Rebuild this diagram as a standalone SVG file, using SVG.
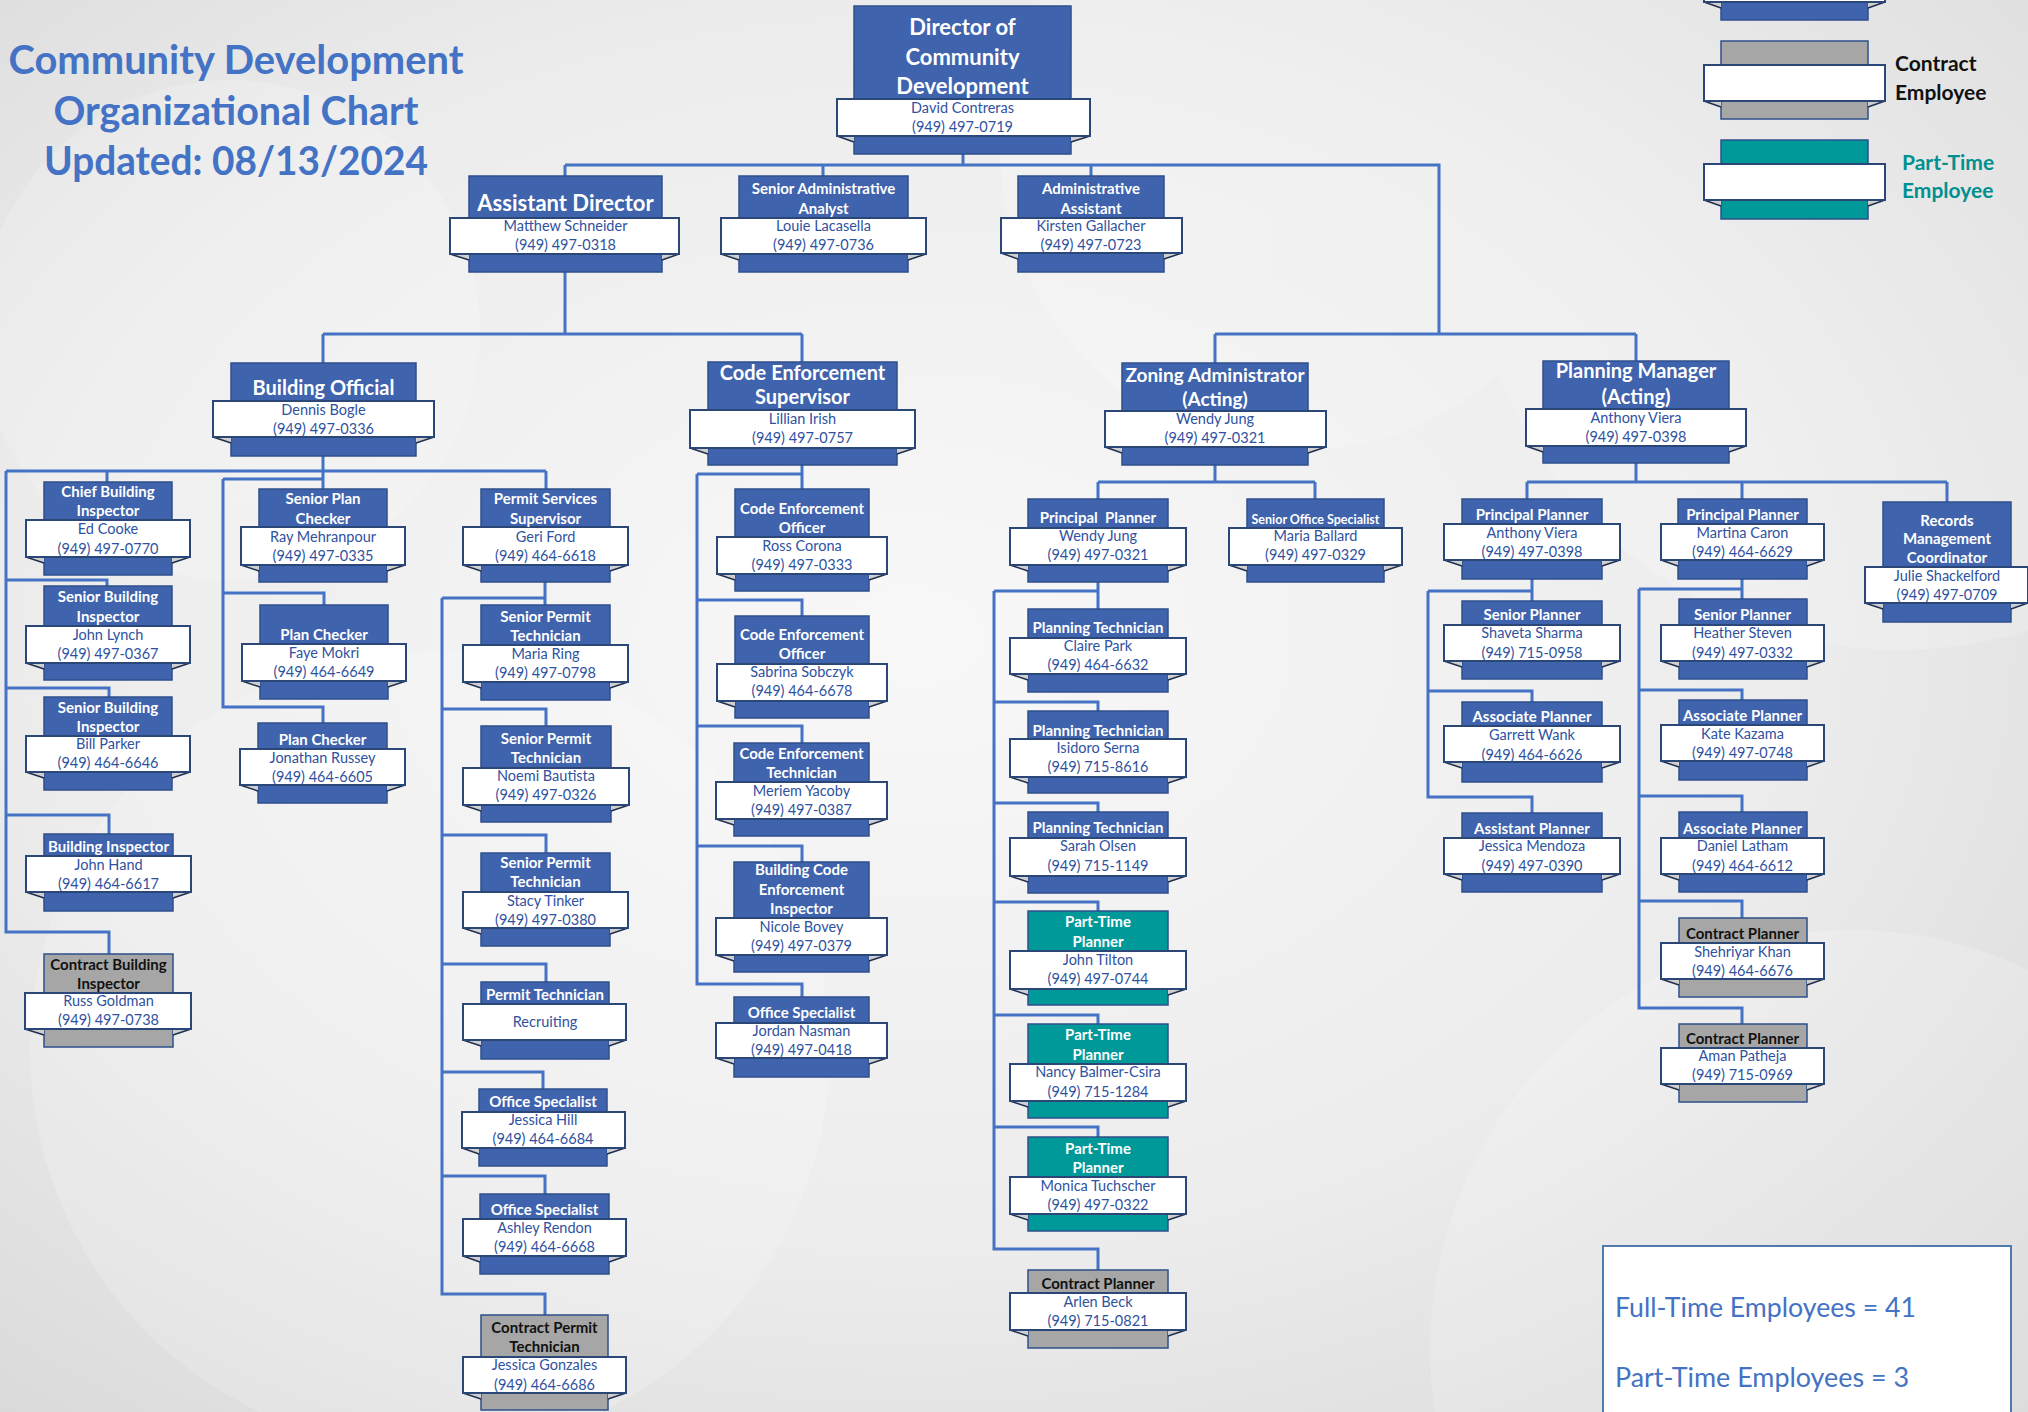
<svg xmlns="http://www.w3.org/2000/svg" width="2028" height="1412" viewBox="0 0 2028 1412">
<defs>
<radialGradient id="bg" cx="0.45" cy="0.45" r="0.8">
<stop offset="0" stop-color="#f8f8f8"/>
<stop offset="0.55" stop-color="#ececec"/>
<stop offset="1" stop-color="#d4d4d4"/>
</radialGradient>
<style>
.b{fill:#3F63AD;stroke:#2F4F8C;stroke-width:1.5}
.g{fill:#A6A6A6;stroke:#2F4F8C;stroke-width:1.5}
.t{fill:#009999;stroke:#2F4F8C;stroke-width:1.5}
.band{fill:#fff;stroke:#2B4778;stroke-width:2}
.fold{fill:#cfcfcf}
.fl{fill:none;stroke:#1f3050;stroke-width:1.5}
.conn{fill:none;stroke:#4472C4;stroke-width:3}
text{font-family:Lato,"Liberation Sans",sans-serif;text-anchor:middle}
.ti{font-weight:bold;fill:#fff}
.tk{fill:#111}
.s22{font-size:22px}.s20{font-size:20px}.s19{font-size:19px}.s15{font-size:15px}.s12{font-size:12.5px}
.nm{font-size:14.5px;fill:#2f52a0}
.hd{font-size:40px;font-weight:bold;fill:#4472C4}
.lg{font-size:21px;font-weight:bold;text-anchor:start}
.sum{font-size:26px;fill:#4472C4;text-anchor:start}
</style>
</defs>
<rect width="2028" height="1412" fill="url(#bg)"/>
<g fill="#fff" opacity="0.18">
<circle cx="230" cy="330" r="250"/>
<circle cx="430" cy="1050" r="400"/>
<circle cx="1900" cy="220" r="430"/>
<circle cx="1850" cy="1350" r="420"/>
<circle cx="1300" cy="150" r="300"/>
</g>

<g id="title">
<text class="hd" x="236" y="74" textLength="455" lengthAdjust="spacingAndGlyphs">Community Development</text>
<text class="hd" x="236" y="124.5" textLength="365" lengthAdjust="spacingAndGlyphs">Organizational Chart</text>
<text class="hd" x="236" y="175" textLength="384" lengthAdjust="spacingAndGlyphs">Updated: 08/13/2024</text>
</g>

<g id="legend">
<g id="legend-fulltime">
<rect class="b" x="1721" y="-40" width="147" height="60"/>
<path class="fold" d="M1704 2H1721V8Z M1885 2H1868V8Z"/><path class="fl" d="M1704 2L1721 8M1885 2L1868 8"/>
<rect class="band" x="1704" y="-30" width="181" height="32"/>
</g>
<g id="legend-contract">
<rect class="g" x="1721" y="41" width="147" height="78"/>
<path class="fold" d="M1704 101H1721V107Z M1885 101H1868V107Z"/><path class="fl" d="M1704 101L1721 107M1885 101L1868 107"/>
<rect class="band" x="1704" y="65" width="181" height="36"/>
<text class="lg" x="1895" y="70.5" fill="#111">Contract</text>
<text class="lg" x="1895" y="99.5" fill="#111">Employee</text>
</g>
<g id="legend-parttime">
<rect class="t" x="1721" y="140" width="147" height="79"/>
<path class="fold" d="M1704 200H1721V206Z M1885 200H1868V206Z"/><path class="fl" d="M1704 200L1721 206M1885 200L1868 206"/>
<rect class="band" x="1704" y="164" width="181" height="36"/>
<text class="lg" x="1902" y="169.5" fill="#009090">Part-Time</text>
<text class="lg" x="1902" y="198" fill="#009090">Employee</text>
</g>
</g>

<g id="summary">
<rect x="1603" y="1246" width="408" height="180" fill="#fff" stroke="#4E7AAE" stroke-width="2"/>
<text class="sum" x="1615" y="1317" textLength="301" lengthAdjust="spacingAndGlyphs">Full-Time Employees = 41</text>
<text class="sum" x="1615" y="1387" textLength="294" lengthAdjust="spacingAndGlyphs">Part-Time Employees = 3</text>
</g>

<g id="connectors">
<path class="conn" d="M963 154V165 M565 165H1439V334 M565 165V176 M823 165V176 M1091 165V176 M1215 334H1636 M1215 334V363 M1636 334V361 M565 272V334 M323 334H802 M323 334V363 M802 334V362"/>
<path class="conn" d="M323 456V489 M6 471H546 M223 479H323 M6 471V932H109V954 M107 471V482 M6 580H107V586 M6 688H109V697 M6 815H109V834 M223 479V707H323V723 M223 593H324V605 M546 471V489 M545 582V605 M442 598H545 M442 598V1294H545V1315 M442 709H546V726 M442 835H546V853 M442 964H546V982 M442 1072H543V1089 M442 1176H545V1194"/>
<path class="conn" d="M802 465V489 M697 474H802 M697 474V984H802V997 M697 600H802V616 M697 726H802V743 M697 846H802V862"/>
<path class="conn" d="M1215 465V482 M1098 482H1315 M1098 482V499 M1315 482V499 M1098 582V609 M994 591H1098 M994 591V1249H1098V1270 M994 702H1098V711 M994 803H1098V812 M994 902H1098V911 M994 1015H1098V1024 M994 1127H1098V1137"/>
<path class="conn" d="M1636 463V482 M1527 482H1947 M1527 482V499 M1742 482V499 M1947 482V502 M1532 579V601 M1428 591H1532 M1428 591V797H1532V813 M1428 691H1532V702 M1742 579V599 M1639 589H1742 M1639 589V1008H1742V1024 M1639 690H1742V700 M1639 796H1742V812 M1639 901H1742V918"/>
</g>

<g id="n-director">
<rect class="b" x="854" y="6" width="217" height="148"/>
<path class="fold" d="M837 136H854V142Z M1090 136H1071V142Z"/><path class="fl" d="M837 136L854 142M1090 136L1071 142"/>
<rect class="band" x="837" y="99" width="253" height="37"/>
<text class="ti s22" x="962.5" y="35.4">Director of</text>
<text class="ti s22" x="962.5" y="65.4">Community</text>
<text class="ti s22" x="962.5" y="93.7">Development</text>
<text class="nm" x="962.5" y="113">David Contreras</text>
<text class="nm" x="962.5" y="132">(949) 497-0719</text>
</g>

<g id="n-assistant-director">
<rect class="b" x="469" y="176" width="193" height="96"/>
<path class="fold" d="M450 254H469V260Z M679 254H662V260Z"/><path class="fl" d="M450 254L469 260M679 254L662 260"/>
<rect class="band" x="450" y="218" width="229" height="36"/>
<text class="ti s22" x="565.5" y="211.4">Assistant Director</text>
<text class="nm" x="565.5" y="231.3">Matthew Schneider</text>
<text class="nm" x="565.5" y="250.3">(949) 497-0318</text>
</g>

<g id="n-senior-admin-analyst">
<rect class="b" x="739" y="176" width="169" height="96"/>
<path class="fold" d="M721 254H739V260Z M926 254H908V260Z"/><path class="fl" d="M721 254L739 260M926 254L908 260"/>
<rect class="band" x="721" y="218" width="205" height="36"/>
<text class="ti s15" x="823.5" y="194.3">Senior Administrative</text>
<text class="ti s15" x="823.5" y="213.6">Analyst</text>
<text class="nm" x="823.5" y="231.3">Louie Lacasella</text>
<text class="nm" x="823.5" y="250.3">(949) 497-0736</text>
</g>

<g id="n-admin-assistant">
<rect class="b" x="1018" y="176" width="146" height="96"/>
<path class="fold" d="M1001 253H1018V259Z M1182 253H1164V259Z"/><path class="fl" d="M1001 253L1018 259M1182 253L1164 259"/>
<rect class="band" x="1001" y="218" width="181" height="35"/>
<text class="ti s15" x="1091" y="194.3">Administrative</text>
<text class="ti s15" x="1091" y="213.6">Assistant</text>
<text class="nm" x="1091" y="231.3">Kirsten Gallacher</text>
<text class="nm" x="1091" y="250.3">(949) 497-0723</text>
</g>

<g id="n-building-official">
<rect class="b" x="231" y="363" width="185" height="93"/>
<path class="fold" d="M213 437H231V443Z M434 437H416V443Z"/><path class="fl" d="M213 437L231 443M434 437L416 443"/>
<rect class="band" x="213" y="401" width="221" height="36"/>
<text class="ti s20" x="323.5" y="395.2">Building Official</text>
<text class="nm" x="323.5" y="415.3">Dennis Bogle</text>
<text class="nm" x="323.5" y="434">(949) 497-0336</text>
</g>

<g id="n-code-enforcement-supervisor">
<rect class="b" x="708" y="362" width="189" height="103"/>
<path class="fold" d="M690 448H708V454Z M915 448H897V454Z"/><path class="fl" d="M690 448L708 454M915 448L897 454"/>
<rect class="band" x="690" y="410" width="225" height="38"/>
<text class="ti s20" x="802.5" y="379.5">Code Enforcement</text>
<text class="ti s20" x="802.5" y="404.2">Supervisor</text>
<text class="nm" x="802.5" y="424">Lillian Irish</text>
<text class="nm" x="802.5" y="443.4">(949) 497-0757</text>
</g>

<g id="n-zoning-administrator">
<rect class="b" x="1122" y="363" width="186" height="102"/>
<path class="fold" d="M1105 447H1122V453Z M1326 447H1308V453Z"/><path class="fl" d="M1105 447L1122 453M1326 447L1308 453"/>
<rect class="band" x="1105" y="411" width="221" height="36"/>
<text class="ti s19" x="1215" y="382.4">Zoning Administrator</text>
<text class="ti s19" x="1215" y="405.7">(Acting)</text>
<text class="nm" x="1215" y="424.3">Wendy Jung</text>
<text class="nm" x="1215" y="442.7">(949) 497-0321</text>
</g>

<g id="n-planning-manager">
<rect class="b" x="1543" y="361" width="186" height="102"/>
<path class="fold" d="M1526 446H1543V452Z M1746 446H1729V452Z"/><path class="fl" d="M1526 446L1543 452M1746 446L1729 452"/>
<rect class="band" x="1526" y="409" width="220" height="37"/>
<text class="ti s20" x="1636" y="377.7">Planning Manager</text>
<text class="ti s20" x="1636" y="403.7">(Acting)</text>
<text class="nm" x="1636" y="423.3">Anthony Viera</text>
<text class="nm" x="1636" y="442.3">(949) 497-0398</text>
</g>

<g id="n-chief-building-inspector">
<rect class="b" x="44" y="482" width="128" height="93"/>
<path class="fold" d="M26 557H44V563Z M190 557H172V563Z"/><path class="fl" d="M26 557L44 563M190 557L172 563"/>
<rect class="band" x="26" y="520" width="164" height="37"/>
<text class="ti s15" x="108" y="496.8">Chief Building</text>
<text class="ti s15" x="108" y="516.1">Inspector</text>
<text class="nm" x="108" y="533.7">Ed Cooke</text>
<text class="nm" x="108" y="553.5">(949) 497-0770</text>
</g>

<g id="n-senior-building-inspector-lynch">
<rect class="b" x="44" y="586" width="128" height="94"/>
<path class="fold" d="M26 663H44V669Z M190 663H172V669Z"/><path class="fl" d="M26 663L44 669M190 663L172 669"/>
<rect class="band" x="26" y="626" width="164" height="37"/>
<text class="ti s15" x="108" y="602.4">Senior Building</text>
<text class="ti s15" x="108" y="622.2">Inspector</text>
<text class="nm" x="108" y="639.8">John Lynch</text>
<text class="nm" x="108" y="659.1">(949) 497-0367</text>
</g>

<g id="n-senior-building-inspector-parker">
<rect class="b" x="44" y="697" width="128" height="93"/>
<path class="fold" d="M26 772H44V778Z M190 772H172V778Z"/><path class="fl" d="M26 772L44 778M190 772L172 778"/>
<rect class="band" x="26" y="736" width="164" height="36"/>
<text class="ti s15" x="108" y="712.6">Senior Building</text>
<text class="ti s15" x="108" y="731.5">Inspector</text>
<text class="nm" x="108" y="749">Bill Parker</text>
<text class="nm" x="108" y="768">(949) 464-6646</text>
</g>

<g id="n-building-inspector-hand">
<rect class="b" x="44" y="834" width="129" height="77"/>
<path class="fold" d="M26 892H44V898Z M191 892H173V898Z"/><path class="fl" d="M26 892L44 898M191 892L173 898"/>
<rect class="band" x="26" y="856" width="165" height="36"/>
<text class="ti s15" x="108.5" y="852.3">Building Inspector</text>
<text class="nm" x="108.5" y="869.8">John Hand</text>
<text class="nm" x="108.5" y="889.1">(949) 464-6617</text>
</g>

<g id="n-contract-building-inspector">
<rect class="g" x="44" y="954" width="129" height="93"/>
<path class="fold" d="M25 1029H44V1035Z M191 1029H173V1035Z"/><path class="fl" d="M25 1029L44 1035M191 1029L173 1035"/>
<rect class="band" x="25" y="993" width="166" height="36"/>
<text class="ti tk s15" x="108.5" y="969.6">Contract Building</text>
<text class="ti tk s15" x="108.5" y="988.6">Inspector</text>
<text class="nm" x="108.5" y="1006">Russ Goldman</text>
<text class="nm" x="108.5" y="1025">(949) 497-0738</text>
</g>

<g id="n-senior-plan-checker">
<rect class="b" x="259" y="489" width="128" height="93"/>
<path class="fold" d="M241 565H259V571Z M405 565H387V571Z"/><path class="fl" d="M241 565L259 571M405 565L387 571"/>
<rect class="band" x="241" y="527" width="164" height="38"/>
<text class="ti s15" x="323" y="504.2">Senior Plan</text>
<text class="ti s15" x="323" y="523.9">Checker</text>
<text class="nm" x="323" y="542">Ray Mehranpour</text>
<text class="nm" x="323" y="560.8">(949) 497-0335</text>
</g>

<g id="n-plan-checker-mokri">
<rect class="b" x="260" y="605" width="128" height="94"/>
<path class="fold" d="M242 681H260V687Z M406 681H388V687Z"/><path class="fl" d="M242 681L260 687M406 681L388 687"/>
<rect class="band" x="242" y="644" width="164" height="37"/>
<text class="ti s15" x="324" y="640.1">Plan Checker</text>
<text class="nm" x="324" y="658.2">Faye Mokri</text>
<text class="nm" x="324" y="676.5">(949) 464-6649</text>
</g>

<g id="n-plan-checker-russey">
<rect class="b" x="258" y="723" width="129" height="80"/>
<path class="fold" d="M240 785H258V791Z M405 785H387V791Z"/><path class="fl" d="M240 785L258 791M405 785L387 791"/>
<rect class="band" x="240" y="749" width="165" height="36"/>
<text class="ti s15" x="322.5" y="745.3">Plan Checker</text>
<text class="nm" x="322.5" y="763.3">Jonathan Russey</text>
<text class="nm" x="322.5" y="782.1">(949) 464-6605</text>
</g>

<g id="n-permit-services-supervisor">
<rect class="b" x="481" y="489" width="129" height="93"/>
<path class="fold" d="M463 565H481V571Z M628 565H610V571Z"/><path class="fl" d="M463 565L481 571M628 565L610 571"/>
<rect class="band" x="463" y="527" width="165" height="38"/>
<text class="ti s15" x="545.5" y="504.2">Permit Services</text>
<text class="ti s15" x="545.5" y="523.9">Supervisor</text>
<text class="nm" x="545.5" y="542">Geri Ford</text>
<text class="nm" x="545.5" y="560.8">(949) 464-6618</text>
</g>

<g id="n-senior-permit-tech-ring">
<rect class="b" x="481" y="605" width="129" height="95"/>
<path class="fold" d="M463 682H481V688Z M628 682H610V688Z"/><path class="fl" d="M463 682L481 688M628 682L610 688"/>
<rect class="band" x="463" y="645" width="165" height="37"/>
<text class="ti s15" x="545.5" y="622.2">Senior Permit</text>
<text class="ti s15" x="545.5" y="641">Technician</text>
<text class="nm" x="545.5" y="659">Maria Ring</text>
<text class="nm" x="545.5" y="677.9">(949) 497-0798</text>
</g>

<g id="n-senior-permit-tech-bautista">
<rect class="b" x="481" y="726" width="130" height="96"/>
<path class="fold" d="M463 805H481V811Z M629 805H611V811Z"/><path class="fl" d="M463 805L481 811M629 805L611 811"/>
<rect class="band" x="463" y="768" width="166" height="37"/>
<text class="ti s15" x="546" y="744.3">Senior Permit</text>
<text class="ti s15" x="546" y="763.2">Technician</text>
<text class="nm" x="546" y="780.8">Noemi Bautista</text>
<text class="nm" x="546" y="800">(949) 497-0326</text>
</g>

<g id="n-senior-permit-tech-tinker">
<rect class="b" x="481" y="853" width="129" height="93"/>
<path class="fold" d="M463 928H481V934Z M628 928H610V934Z"/><path class="fl" d="M463 928L481 934M628 928L610 934"/>
<rect class="band" x="463" y="892" width="165" height="36"/>
<text class="ti s15" x="545.5" y="868.3">Senior Permit</text>
<text class="ti s15" x="545.5" y="887.1">Technician</text>
<text class="nm" x="545.5" y="905.7">Stacy Tinker</text>
<text class="nm" x="545.5" y="925">(949) 497-0380</text>
</g>

<g id="n-permit-technician-recruiting">
<rect class="b" x="481" y="982" width="128" height="77"/>
<path class="fold" d="M463 1040H481V1046Z M626 1040H609V1046Z"/><path class="fl" d="M463 1040L481 1046M626 1040L609 1046"/>
<rect class="band" x="463" y="1004" width="163" height="36"/>
<text class="ti s15" x="545" y="1000.3">Permit Technician</text>
<text class="nm" x="545" y="1027.3">Recruiting</text>
</g>

<g id="n-office-specialist-hill">
<rect class="b" x="479" y="1089" width="128" height="77"/>
<path class="fold" d="M462 1148H479V1154Z M625 1148H607V1154Z"/><path class="fl" d="M462 1148L479 1154M625 1148L607 1154"/>
<rect class="band" x="462" y="1112" width="163" height="36"/>
<text class="ti s15" x="543" y="1107.3">Office Specialist</text>
<text class="nm" x="543" y="1125.3">Jessica Hill</text>
<text class="nm" x="543" y="1144">(949) 464-6684</text>
</g>

<g id="n-office-specialist-rendon">
<rect class="b" x="480" y="1194" width="129" height="80"/>
<path class="fold" d="M463 1256H480V1262Z M626 1256H609V1262Z"/><path class="fl" d="M463 1256L480 1262M626 1256L609 1262"/>
<rect class="band" x="463" y="1219" width="163" height="37"/>
<text class="ti s15" x="544.5" y="1215.3">Office Specialist</text>
<text class="nm" x="544.5" y="1233.3">Ashley Rendon</text>
<text class="nm" x="544.5" y="1252.3">(949) 464-6668</text>
</g>

<g id="n-contract-permit-technician">
<rect class="g" x="481" y="1315" width="127" height="95"/>
<path class="fold" d="M463 1393H481V1399Z M626 1393H608V1399Z"/><path class="fl" d="M463 1393L481 1399M626 1393L608 1399"/>
<rect class="band" x="463" y="1357" width="163" height="36"/>
<text class="ti tk s15" x="544.5" y="1333.3">Contract Permit</text>
<text class="ti tk s15" x="544.5" y="1352.3">Technician</text>
<text class="nm" x="544.5" y="1370.3">Jessica Gonzales</text>
<text class="nm" x="544.5" y="1390">(949) 464-6686</text>
</g>

<g id="n-code-officer-corona">
<rect class="b" x="735" y="489" width="134" height="102"/>
<path class="fold" d="M717 574H735V580Z M887 574H869V580Z"/><path class="fl" d="M717 574L735 580M887 574L869 580"/>
<rect class="band" x="717" y="537" width="170" height="37"/>
<text class="ti s15" x="802" y="513.5">Code Enforcement</text>
<text class="ti s15" x="802" y="532.9">Officer</text>
<text class="nm" x="802" y="551">Ross Corona</text>
<text class="nm" x="802" y="569.9">(949) 497-0333</text>
</g>

<g id="n-code-officer-sobczyk">
<rect class="b" x="735" y="616" width="134" height="102"/>
<path class="fold" d="M717 701H735V707Z M887 701H869V707Z"/><path class="fl" d="M717 701L735 707M887 701L869 707"/>
<rect class="band" x="717" y="664" width="170" height="37"/>
<text class="ti s15" x="802" y="640">Code Enforcement</text>
<text class="ti s15" x="802" y="658.9">Officer</text>
<text class="nm" x="802" y="677">Sabrina Sobczyk</text>
<text class="nm" x="802" y="695.5">(949) 464-6678</text>
</g>

<g id="n-code-technician-yacoby">
<rect class="b" x="734" y="743" width="135" height="93"/>
<path class="fold" d="M716 819H734V825Z M887 819H869V825Z"/><path class="fl" d="M716 819L734 825M887 819L869 825"/>
<rect class="band" x="716" y="782" width="171" height="37"/>
<text class="ti s15" x="801.5" y="758.8">Code Enforcement</text>
<text class="ti s15" x="801.5" y="778.2">Technician</text>
<text class="nm" x="801.5" y="796.3">Meriem Yacoby</text>
<text class="nm" x="801.5" y="814.7">(949) 497-0387</text>
</g>

<g id="n-building-code-inspector-bovey">
<rect class="b" x="734" y="862" width="135" height="110"/>
<path class="fold" d="M716 955H734V961Z M887 955H869V961Z"/><path class="fl" d="M716 955L734 961M887 955L869 961"/>
<rect class="band" x="716" y="918" width="171" height="37"/>
<text class="ti s15" x="801.5" y="875.1">Building Code</text>
<text class="ti s15" x="801.5" y="894.5">Enforcement</text>
<text class="ti s15" x="801.5" y="913.9">Inspector</text>
<text class="nm" x="801.5" y="932">Nicole Bovey</text>
<text class="nm" x="801.5" y="951">(949) 497-0379</text>
</g>

<g id="n-office-specialist-nasman">
<rect class="b" x="734" y="997" width="135" height="80"/>
<path class="fold" d="M716 1058H734V1064Z M887 1058H869V1064Z"/><path class="fl" d="M716 1058L734 1064M887 1058L869 1064"/>
<rect class="band" x="716" y="1023" width="171" height="35"/>
<text class="ti s15" x="801.5" y="1018.1">Office Specialist</text>
<text class="nm" x="801.5" y="1036.2">Jordan Nasman</text>
<text class="nm" x="801.5" y="1055.1">(949) 497-0418</text>
</g>

<g id="n-principal-planner-jung">
<rect class="b" x="1028" y="499" width="140" height="83"/>
<path class="fold" d="M1010 565H1028V571Z M1186 565H1168V571Z"/><path class="fl" d="M1010 565L1028 571M1186 565L1168 571"/>
<rect class="band" x="1010" y="528" width="176" height="37"/>
<text class="ti s15" x="1098" y="523.2" xml:space="preserve">Principal  Planner</text>
<text class="nm" x="1098" y="541.3">Wendy Jung</text>
<text class="nm" x="1098" y="559.6">(949) 497-0321</text>
</g>

<g id="n-senior-office-specialist-ballard">
<rect class="b" x="1247" y="499" width="137" height="83"/>
<path class="fold" d="M1229 565H1247V571Z M1402 565H1384V571Z"/><path class="fl" d="M1229 565L1247 571M1402 565L1384 571"/>
<rect class="band" x="1229" y="528" width="173" height="37"/>
<text class="ti s12" x="1315.5" y="524">Senior Office Specialist</text>
<text class="nm" x="1315.5" y="541.3">Maria Ballard</text>
<text class="nm" x="1315.5" y="559.6">(949) 497-0329</text>
</g>

<g id="n-planning-tech-park">
<rect class="b" x="1028" y="609" width="140" height="83"/>
<path class="fold" d="M1010 674H1028V680Z M1186 674H1168V680Z"/><path class="fl" d="M1010 674L1028 680M1186 674L1168 680"/>
<rect class="band" x="1010" y="638" width="176" height="36"/>
<text class="ti s15" x="1098" y="633.3">Planning Technician</text>
<text class="nm" x="1098" y="650.9">Claire Park</text>
<text class="nm" x="1098" y="669.8">(949) 464-6632</text>
</g>

<g id="n-planning-tech-serna">
<rect class="b" x="1028" y="711" width="140" height="82"/>
<path class="fold" d="M1010 777H1028V783Z M1186 777H1168V783Z"/><path class="fl" d="M1010 777L1028 783M1186 777L1168 783"/>
<rect class="band" x="1010" y="739" width="176" height="38"/>
<text class="ti s15" x="1098" y="735.6">Planning Technician</text>
<text class="nm" x="1098" y="753">Isidoro Serna</text>
<text class="nm" x="1098" y="772">(949) 715-8616</text>
</g>

<g id="n-planning-tech-olsen">
<rect class="b" x="1028" y="812" width="140" height="81"/>
<path class="fold" d="M1010 876H1028V882Z M1186 876H1168V882Z"/><path class="fl" d="M1010 876L1028 882M1186 876L1168 882"/>
<rect class="band" x="1010" y="838" width="176" height="38"/>
<text class="ti s15" x="1098" y="833.1">Planning Technician</text>
<text class="nm" x="1098" y="851.2">Sarah Olsen</text>
<text class="nm" x="1098" y="870.7">(949) 715-1149</text>
</g>

<g id="n-parttime-planner-tilton">
<rect class="t" x="1028" y="911" width="140" height="94"/>
<path class="fold" d="M1010 989H1028V995Z M1186 989H1168V995Z"/><path class="fl" d="M1010 989L1028 995M1186 989L1168 995"/>
<rect class="band" x="1010" y="951" width="176" height="38"/>
<text class="ti s15" x="1098" y="927.3">Part-Time</text>
<text class="ti s15" x="1098" y="947.3">Planner</text>
<text class="nm" x="1098" y="964.9">John Tilton</text>
<text class="nm" x="1098" y="983.8">(949) 497-0744</text>
</g>

<g id="n-parttime-planner-balmer">
<rect class="t" x="1028" y="1024" width="140" height="94"/>
<path class="fold" d="M1010 1101H1028V1107Z M1186 1101H1168V1107Z"/><path class="fl" d="M1010 1101L1028 1107M1186 1101L1168 1107"/>
<rect class="band" x="1010" y="1064" width="176" height="37"/>
<text class="ti s15" x="1098" y="1040.3">Part-Time</text>
<text class="ti s15" x="1098" y="1059.9">Planner</text>
<text class="nm" x="1098" y="1076.8">Nancy Balmer-Csira</text>
<text class="nm" x="1098" y="1096.9">(949) 715-1284</text>
</g>

<g id="n-parttime-planner-tuchscher">
<rect class="t" x="1028" y="1137" width="140" height="94"/>
<path class="fold" d="M1010 1214H1028V1220Z M1186 1214H1168V1220Z"/><path class="fl" d="M1010 1214L1028 1220M1186 1214L1168 1220"/>
<rect class="band" x="1010" y="1177" width="176" height="37"/>
<text class="ti s15" x="1098" y="1153.6">Part-Time</text>
<text class="ti s15" x="1098" y="1173.3">Planner</text>
<text class="nm" x="1098" y="1191.3">Monica Tuchscher</text>
<text class="nm" x="1098" y="1210.3">(949) 497-0322</text>
</g>

<g id="n-contract-planner-beck">
<rect class="g" x="1028" y="1270" width="140" height="78"/>
<path class="fold" d="M1010 1330H1028V1336Z M1186 1330H1168V1336Z"/><path class="fl" d="M1010 1330L1028 1336M1186 1330L1168 1336"/>
<rect class="band" x="1010" y="1293" width="176" height="37"/>
<text class="ti tk s15" x="1098" y="1289.3">Contract Planner</text>
<text class="nm" x="1098" y="1307">Arlen Beck</text>
<text class="nm" x="1098" y="1326">(949) 715-0821</text>
</g>

<g id="n-principal-planner-viera">
<rect class="b" x="1462" y="499" width="140" height="80"/>
<path class="fold" d="M1444 560H1462V566Z M1620 560H1602V566Z"/><path class="fl" d="M1444 560L1462 566M1620 560L1602 566"/>
<rect class="band" x="1444" y="524" width="176" height="36"/>
<text class="ti s15" x="1532" y="520.4">Principal Planner</text>
<text class="nm" x="1532" y="538.2">Anthony Viera</text>
<text class="nm" x="1532" y="556.8">(949) 497-0398</text>
</g>

<g id="n-principal-planner-caron">
<rect class="b" x="1678" y="499" width="129" height="80"/>
<path class="fold" d="M1661 560H1678V566Z M1824 560H1807V566Z"/><path class="fl" d="M1661 560L1678 566M1824 560L1807 566"/>
<rect class="band" x="1661" y="524" width="163" height="36"/>
<text class="ti s15" x="1742.5" y="520.4">Principal Planner</text>
<text class="nm" x="1742.5" y="538.2">Martina Caron</text>
<text class="nm" x="1742.5" y="556.8">(949) 464-6629</text>
</g>

<g id="n-records-management-coordinator">
<rect class="b" x="1883" y="502" width="128" height="120"/>
<path class="fold" d="M1865 603H1883V609Z M2028 603H2011V609Z"/><path class="fl" d="M1865 603L1883 609M2028 603L2011 609"/>
<rect class="band" x="1865" y="567" width="163" height="36"/>
<text class="ti s15" x="1947" y="525.5">Records</text>
<text class="ti s15" x="1947" y="544.4">Management</text>
<text class="ti s15" x="1947" y="563.4">Coordinator</text>
<text class="nm" x="1947" y="580.8">Julie Shackelford</text>
<text class="nm" x="1947" y="600.1">(949) 497-0709</text>
</g>

<g id="n-senior-planner-sharma">
<rect class="b" x="1462" y="601" width="140" height="78"/>
<path class="fold" d="M1444 661H1462V667Z M1620 661H1602V667Z"/><path class="fl" d="M1444 661L1462 667M1620 661L1602 667"/>
<rect class="band" x="1444" y="625" width="176" height="36"/>
<text class="ti s15" x="1532" y="620.2">Senior Planner</text>
<text class="nm" x="1532" y="638">Shaveta Sharma</text>
<text class="nm" x="1532" y="657.8">(949) 715-0958</text>
</g>

<g id="n-associate-planner-wank">
<rect class="b" x="1462" y="702" width="140" height="80"/>
<path class="fold" d="M1444 762H1462V768Z M1620 762H1602V768Z"/><path class="fl" d="M1444 762L1462 768M1620 762L1602 768"/>
<rect class="band" x="1444" y="726" width="176" height="36"/>
<text class="ti s15" x="1532" y="722.1">Associate Planner</text>
<text class="nm" x="1532" y="739.9">Garrett Wank</text>
<text class="nm" x="1532" y="760">(949) 464-6626</text>
</g>

<g id="n-assistant-planner-mendoza">
<rect class="b" x="1462" y="813" width="140" height="79"/>
<path class="fold" d="M1444 874H1462V880Z M1620 874H1602V880Z"/><path class="fl" d="M1444 874L1462 880M1620 874L1602 880"/>
<rect class="band" x="1444" y="838" width="176" height="36"/>
<text class="ti s15" x="1532" y="833.6">Assistant Planner</text>
<text class="nm" x="1532" y="851.4">Jessica Mendoza</text>
<text class="nm" x="1532" y="870.8">(949) 497-0390</text>
</g>

<g id="n-senior-planner-steven">
<rect class="b" x="1679" y="599" width="128" height="80"/>
<path class="fold" d="M1661 661H1679V667Z M1824 661H1807V667Z"/><path class="fl" d="M1661 661L1679 667M1824 661L1807 667"/>
<rect class="band" x="1661" y="625" width="163" height="36"/>
<text class="ti s15" x="1742.5" y="620.2">Senior Planner</text>
<text class="nm" x="1742.5" y="638">Heather Steven</text>
<text class="nm" x="1742.5" y="657.8">(949) 497-0332</text>
</g>

<g id="n-associate-planner-kazama">
<rect class="b" x="1679" y="700" width="128" height="80"/>
<path class="fold" d="M1661 761H1679V767Z M1824 761H1807V767Z"/><path class="fl" d="M1661 761L1679 767M1824 761L1807 767"/>
<rect class="band" x="1661" y="725" width="163" height="36"/>
<text class="ti s15" x="1742.5" y="721.2">Associate Planner</text>
<text class="nm" x="1742.5" y="739">Kate Kazama</text>
<text class="nm" x="1742.5" y="758">(949) 497-0748</text>
</g>

<g id="n-associate-planner-latham">
<rect class="b" x="1679" y="812" width="128" height="80"/>
<path class="fold" d="M1661 874H1679V880Z M1824 874H1807V880Z"/><path class="fl" d="M1661 874L1679 880M1824 874L1807 880"/>
<rect class="band" x="1661" y="838" width="163" height="36"/>
<text class="ti s15" x="1742.5" y="833.6">Associate Planner</text>
<text class="nm" x="1742.5" y="851.4">Daniel Latham</text>
<text class="nm" x="1742.5" y="870.8">(949) 464-6612</text>
</g>

<g id="n-contract-planner-khan">
<rect class="g" x="1679" y="918" width="128" height="79"/>
<path class="fold" d="M1661 979H1679V985Z M1824 979H1807V985Z"/><path class="fl" d="M1661 979L1679 985M1824 979L1807 985"/>
<rect class="band" x="1661" y="943" width="163" height="36"/>
<text class="ti tk s15" x="1742.5" y="938.8">Contract Planner</text>
<text class="nm" x="1742.5" y="956.6">Shehriyar Khan</text>
<text class="nm" x="1742.5" y="976">(949) 464-6676</text>
</g>

<g id="n-contract-planner-patheja">
<rect class="g" x="1679" y="1024" width="128" height="78"/>
<path class="fold" d="M1661 1084H1679V1090Z M1824 1084H1807V1090Z"/><path class="fl" d="M1661 1084L1679 1090M1824 1084L1807 1090"/>
<rect class="band" x="1661" y="1048" width="163" height="36"/>
<text class="ti tk s15" x="1742.5" y="1044">Contract Planner</text>
<text class="nm" x="1742.5" y="1061">Aman Patheja</text>
<text class="nm" x="1742.5" y="1080.4">(949) 715-0969</text>
</g>
</svg>
